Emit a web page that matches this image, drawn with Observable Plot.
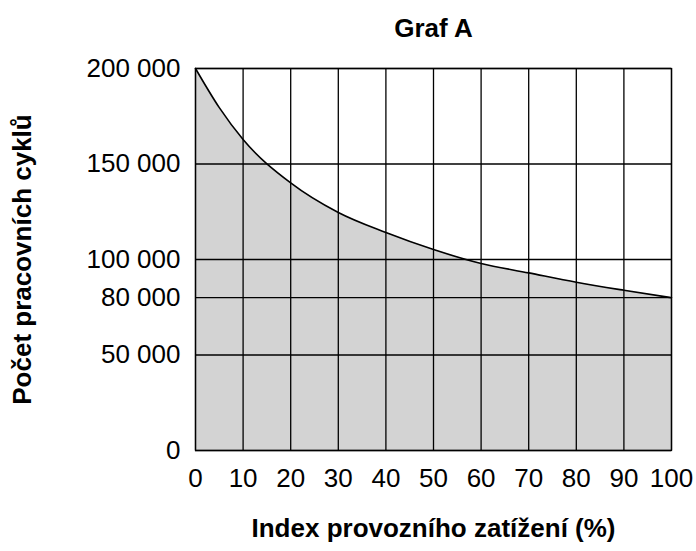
<!DOCTYPE html>
<html>
<head>
<meta charset="utf-8">
<script src="https://cdn.jsdelivr.net/npm/d3@7"></script>
<script src="https://cdn.jsdelivr.net/npm/@observablehq/plot@0.6"></script>
<style>
  html, body { margin: 0; padding: 0; background: #fff; }
</style>
</head>
<body>
<div id="chart"></div>
<script>
const title = "Graf A";
const xLabel = "Index provozního zatížení (%)";
const yLabel = "Počet pracovních cyklů";

const loadIndex = [0, 5, 10, 20, 30, 40, 50, 60, 70, 80, 90, 100];
const cycles = [200000, 179500, 162800, 140100, 124600, 114100, 105200, 97900, 93000, 88100, 83900, 80000];

const xTicks = [0, 10, 20, 30, 40, 50, 60, 70, 80, 90, 100];
const yTicks = [0, 50000, 80000, 100000, 150000, 200000];

const data = loadIndex.map((x, i) => ({x, y: cycles[i]}));
const fmt = d => d3.format(",")(d).replace(/,/g, " ");
const font = "'Liberation Sans', Arial, Helvetica, sans-serif";

const chart = Plot.plot({
  width: 696,
  height: 551,
  marginLeft: 195,
  marginRight: 25,
  marginTop: 68,
  marginBottom: 101,
  style: {fontFamily: font, fontSize: "26px", color: "#000", background: "#fff", overflow: "visible"},
  x: {domain: [0, 100]},
  y: {domain: [0, 200000]},
  marks: [
    Plot.areaY(data, {x: "x", y: "y", fill: "#d3d3d3", curve: "monotone-x"}),
    Plot.ruleX(xTicks, {stroke: "#000", strokeWidth: 1.3}),
    Plot.ruleY(yTicks, {stroke: "#000", strokeWidth: 1.3}),
    Plot.lineY(data, {x: "x", y: "y", stroke: "#000", strokeWidth: 1.6, curve: "monotone-x"}),
    Plot.frame({stroke: "#000", strokeWidth: 1.3}),
    Plot.axisX(xTicks, {tickSize: 0, tickPadding: 18, label: null, fontSize: 26}),
    Plot.axisY(yTicks, {tickSize: 0, tickPadding: 15, label: null, tickFormat: fmt, fontSize: 26}),
    Plot.text([title], {text: d => d, frameAnchor: "top", lineAnchor: "bottom", dy: -32, fontWeight: "bold", fontSize: 26}),
    Plot.text([xLabel], {text: d => d, frameAnchor: "bottom", lineAnchor: "bottom", dy: 86, fontWeight: "bold", fontSize: 26}),
    Plot.text([yLabel], {text: d => d, frameAnchor: "left", textAnchor: "middle", lineAnchor: "bottom", rotate: -90, dx: -165, fontWeight: "bold", fontSize: 26})
  ]
});
document.getElementById("chart").appendChild(chart);
</script>
</body>
</html>
